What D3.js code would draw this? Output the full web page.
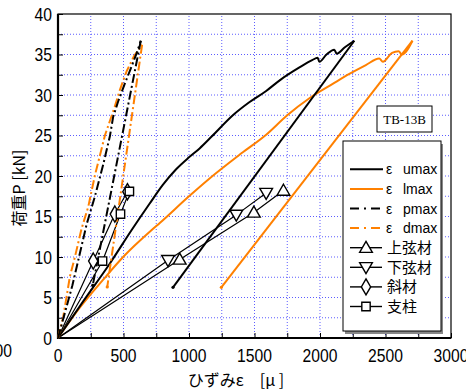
<!DOCTYPE html>
<html><head><meta charset="utf-8">
<script src="https://cdn.jsdelivr.net/npm/d3@7"></script>
<style>body{margin:0;background:#fff}svg{display:block}</style>
</head><body>
<script>
// ---- data ----
const umaxLoad = [[0,0],[200,4.7],[396,9.2],[561,13.3],[700,16.6],[800,18.9],[900,20.8],[1000,22.3],[1081,23.4],[1175,24.9],[1335,27.5],[1460,29.1],[1589,30.5],[1700,31.9],[1843,33.4],[1940,34.3],[1982,34.6],[1995,34.1],[2050,35.0],[2109,35.6],[2127,35.1],[2190,35.9],[2262,36.7]];
const umaxUnload = [[2262,36.7],[878,6.26]];
const lmaxLoad = [[0,0],[150,3.4],[345,7.2],[497,10.0],[713,13.3],[777,14.2],[1000,17.5],[1157,19.7],[1400,22.8],[1589,25.1],[1750,27.5],[1919,29.6],[2100,31.4],[2224,32.6],[2350,33.7],[2452,34.5],[2480,34.1],[2550,35.2],[2600,35.4],[2625,35.0],[2706,36.7]];
const lmaxUnload = [[2706,36.7],[1247,6.26]];
const pmaxLoad = [[0,0],[110,6.5],[218,14.0],[282,17.5],[345,21.4],[396,24.9],[421,27.3],[459,29.2],[510,31.4],[566,33.7],[599,35.1],[632,36.7]];
const pmaxUnload = [[632,36.7],[265,6.5]];
const dmaxLoad = [[0,0],[40,2.6],[91,7.6],[129,10.0],[180,13.5],[231,16.2],[282,20.1],[358,25.0],[434,28.6],[472,30.6],[523,32.9],[580,34.8],[642,36.2]];
const dmaxUnload = [[642,36.2],[376,6.3]];
const upperX = [0,929,1495,1721], upperP = [0,9.7,15.5,18.2];
const lowerX = [0,840,1361,1589], lowerP = [0,9.6,15.2,17.9];
const diagX = [0,269,434,530], diagP = [0,9.5,15.3,18.06];
const postX = [0,340,477,545], postP = [0,9.5,15.3,18.1];
const xTicks = [0,500,1000,1500,2000,2500,3000];
const yTicks = [0,5,10,15,20,25,30,35,40];
const legendLabels = ["umax","lmax","pmax","dmax","上弦材","下弦材","斜材","支柱"];

const W=466,H=392;
const svg=d3.select("body").append("svg").attr("width",W).attr("height",H);
const x=d3.scaleLinear().domain([0,3000]).range([58,451]);
const y=d3.scaleLinear().domain([0,40]).range([338,14]);
const ORANGE="#ff8000";
const sans="'Liberation Sans', Arial, sans-serif";
const cjk="'Noto Sans CJK JP', sans-serif";

// grid
const g=svg.append("g");
d3.range(250,3000,250).forEach(v=>g.append("line").attr("x1",x(v)).attr("x2",x(v)).attr("y1",y(0)).attr("y2",y(40))
  .attr("stroke","#5c5cff").attr("stroke-width",1).attr("stroke-dasharray","1,2"));
d3.range(2.5,40,2.5).forEach(v=>g.append("line").attr("x1",x(0)).attr("x2",x(3000)).attr("y1",y(v)).attr("y2",y(v))
  .attr("stroke","#5c5cff").attr("stroke-width",1).attr("stroke-dasharray","1,2"));

// axes ticks (inward)
const xa=d3.axisBottom(x).tickValues(d3.range(0,3001,250)).tickSize(-5).tickFormat("");
svg.append("g").attr("transform",`translate(0,${y(0)})`).call(xa).call(s=>s.select(".domain").remove()).selectAll("line").attr("stroke","#000");
const ya=d3.axisLeft(y).tickValues(d3.range(0,40.1,2.5)).tickSize(-5).tickFormat("");
svg.append("g").attr("transform",`translate(${x(0)},0)`).call(ya).call(s=>s.select(".domain").remove()).selectAll("line").attr("stroke","#000");

// frame
svg.append("rect").attr("x",x(0)).attr("y",y(40)).attr("width",x(3000)-x(0)).attr("height",y(0)-y(40))
  .attr("fill","none").attr("stroke","#000").attr("stroke-width",1.2);
svg.append("line").attr("x1",x(0)).attr("x2",x(0)).attr("y1",y(40)).attr("y2",y(0)+1).attr("stroke","#000").attr("stroke-width",2.2);
svg.append("line").attr("x1",x(0)-1).attr("x2",x(3000)).attr("y1",y(0)).attr("y2",y(0)).attr("stroke","#000").attr("stroke-width",2.2);

// tick labels (narrow, tall digits)
svg.selectAll(".xt").data(xTicks).enter().append("text").attr("transform",d=>`translate(${x(d)},362) scale(0.87,1)`).attr("text-anchor","middle")
  .attr("font-family",sans).attr("font-size",18).text(d=>d);
svg.selectAll(".yt").data(yTicks).enter().append("text").attr("transform",d=>`translate(52,${y(d)+6.5}) scale(0.87,1)`).attr("text-anchor","end")
  .attr("font-family",sans).attr("font-size",18).text(d=>d);
svg.append("text").attr("transform","translate(12,357) scale(0.87,1)").attr("text-anchor","end").attr("font-family",sans).attr("font-size",18).text("3000");

// axis titles
svg.append("text").attr("transform","translate(25,188) rotate(-90)").attr("text-anchor","middle")
  .attr("font-family",cjk).attr("font-size",16).text("荷重P [kN]");
svg.append("text").attr("x",236).attr("y",386).attr("text-anchor","middle")
  .attr("font-family",cjk).attr("font-size",16).text("ひずみε　[μ ]");

// curves
const line=d3.line().x(d=>x(d[0])).y(d=>y(d[1]));
const smooth=d3.line().x(d=>x(d[0])).y(d=>y(d[1])).curve(d3.curveMonotoneX);
const plot=svg.append("g");
function path(data,color,w,dash,gen){const p=plot.append("path").datum(data).attr("d",gen||line).attr("fill","none")
  .attr("stroke",color).attr("stroke-width",w).attr("stroke-linejoin","round"); if(dash)p.attr("stroke-dasharray",dash); return p;}

function markerShape(sel,type,cx,cy){
  let s;
  if(type==="up") s=sel.append("path").attr("d",d3.symbol(d3.symbolTriangle,70)()).attr("transform",`translate(${cx},${cy+1})`);
  else if(type==="down") s=sel.append("path").attr("d",d3.symbol(d3.symbolTriangle,70)()).attr("transform",`translate(${cx},${cy-1}) rotate(180)`);
  else if(type==="diamond") s=sel.append("path").attr("d",d3.symbol(d3.symbolDiamond,75)()).attr("transform",`translate(${cx},${cy})`);
  else s=sel.append("path").attr("d",d3.symbol(d3.symbolSquare,70)()).attr("transform",`translate(${cx},${cy})`);
  s.attr("fill","#fff").attr("stroke","#000").attr("stroke-width",1.4);
}
const mseries=[[upperX,upperP,"up"],[lowerX,lowerP,"down"],[diagX,diagP,"diamond"],[postX,postP,"square"]];
mseries.forEach(([xs,ps])=>path(xs.map((v,i)=>[v,ps[i]]),"#000",1.2));

path(lmaxLoad,ORANGE,2,null,smooth);
path(lmaxUnload,ORANGE,2);
path(umaxLoad,"#000",2,null,smooth);
path(umaxUnload,"#000",2);
path(dmaxLoad,ORANGE,2,"9,3,2,3");
path(dmaxUnload,ORANGE,2,"9,3,2,3");
path(pmaxLoad,"#000",2,"9,3,2,3");
path(pmaxUnload,"#000",2,"9,3,2,3");
[[umaxUnload[1],"#000"],[lmaxUnload[1],ORANGE],[dmaxUnload[1],ORANGE],[pmaxUnload[1],"#000"]].forEach(([d,c])=>
  plot.append("circle").attr("cx",x(d[0])).attr("cy",y(d[1])).attr("r",1.6).attr("fill",c));

mseries.forEach(([xs,ps,t])=>xs.forEach((v,i)=>{if(i>0) markerShape(plot,t,x(v),y(ps[i]));}));

// TB-13B box
svg.append("rect").attr("x",377).attr("y",106).attr("width",55).attr("height",26).attr("fill","#fff").attr("stroke","#000").attr("stroke-width",1);
svg.append("text").attr("x",404.5).attr("y",124).attr("text-anchor","middle").attr("font-family","'Liberation Serif', serif").attr("font-size",13).text("TB-13B");

// legend
const lg=svg.append("g");
lg.append("rect").attr("x",345).attr("y",144).attr("width",98).attr("height",190).attr("fill","#888");
lg.append("rect").attr("x",343).attr("y",141).attr("width",98).attr("height",190).attr("fill","#fff").attr("stroke","#000").attr("stroke-width",1);
const lstyles=[["#000",null],[ORANGE,null],["#000","9,5,2,5"],[ORANGE,"9,5,2,5"]];
legendLabels.forEach((lab,i)=>{
  const ly=169.3+i*19.6;
  if(i<4){
    const [c,d]=lstyles[i];
    const l=lg.append("line").attr("x1",350).attr("x2",383).attr("y1",ly).attr("y2",ly).attr("stroke",c).attr("stroke-width",2);
    if(d) l.attr("stroke-dasharray",d);
    lg.append("text").attr("x",386).attr("y",ly+5).attr("font-family",sans).attr("font-size",14).text("ε");
    lg.append("text").attr("x",403).attr("y",ly+5).attr("font-family",sans).attr("font-size",14).text(lab);
  } else {
    lg.append("line").attr("x1",350).attr("x2",382).attr("y1",ly).attr("y2",ly).attr("stroke","#000").attr("stroke-width",1.4);
    markerShape(lg,mseries[i-4][2],366,ly);
    lg.append("text").attr("x",387).attr("y",ly+5.5).attr("font-family",cjk).attr("font-size",15).text(lab);
  }
});
</script>
</body></html>
